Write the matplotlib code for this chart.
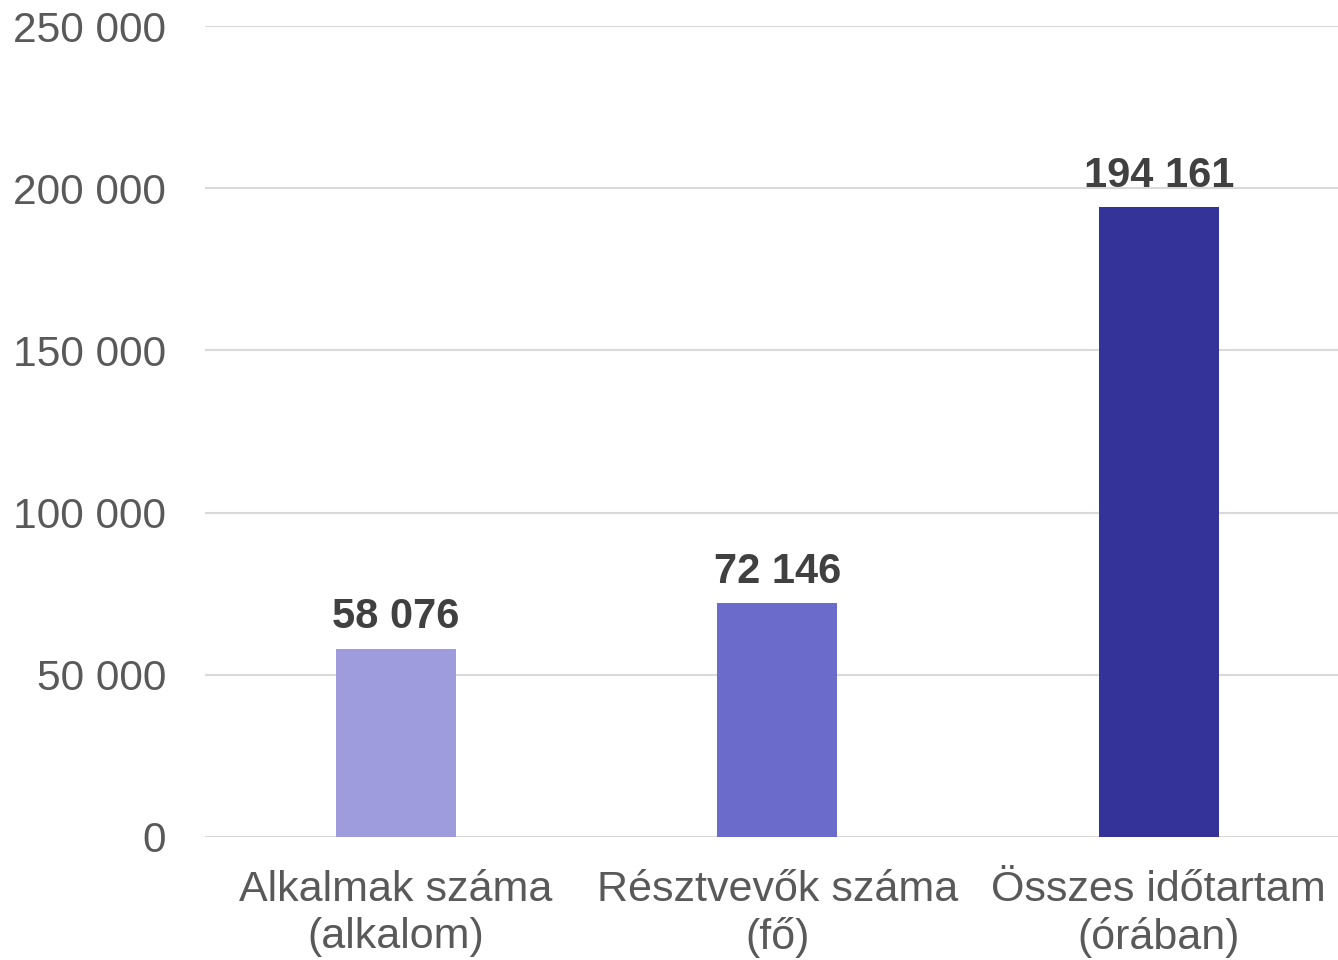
import matplotlib.pyplot as plt
import numpy as np

plt.rcParams['font.family'] = ['Liberation Sans', 'DejaVu Sans']

categories = ['Alkalmak száma\n(alkalom)', 'Résztvevők száma\n(fő)', 'Összes időtartam\n(órában)']
values = [58076, 72146, 194161]
colors = ['#9e9cdc', '#6b6bcc', '#343399']
yticks = [0, 50000, 100000, 150000, 200000, 250000]

def fmt(v):
    return '{:,}'.format(v).replace(',', ' ')

fig = plt.figure(figsize=(13.38, 9.6), dpi=100)
ax = fig.add_axes([205 / 1338, 123 / 960, 1144.5 / 1338, 811 / 960])

x = np.arange(len(values))
ax.bar(x, values, width=0.315, color=colors, zorder=3)

for xi, v in zip(x, values):
    ax.annotate(fmt(v), (xi, v), xytext=(0, 8), textcoords='offset points',
                ha='center', va='bottom', fontsize=30, fontweight='bold', color='#404040')

ax.set_xlim(-0.5, 2.5)
ax.set_ylim(0, 250000)
ax.set_yticks(yticks)
ax.set_yticklabels([fmt(t) for t in yticks])
ax.set_xticks(x)
ax.set_xticklabels(categories, linespacing=1.2)

ax.tick_params(axis='y', length=0, pad=28, labelsize=30.6, labelcolor='#595959')
ax.tick_params(axis='x', length=0, pad=24, labelsize=31, labelcolor='#595959')
ax.grid(axis='y', color='#d9d9d9', linewidth=1.5, zorder=0)
for s in ax.spines.values():
    s.set_visible(False)

fig.savefig('out.png', dpi=100)
